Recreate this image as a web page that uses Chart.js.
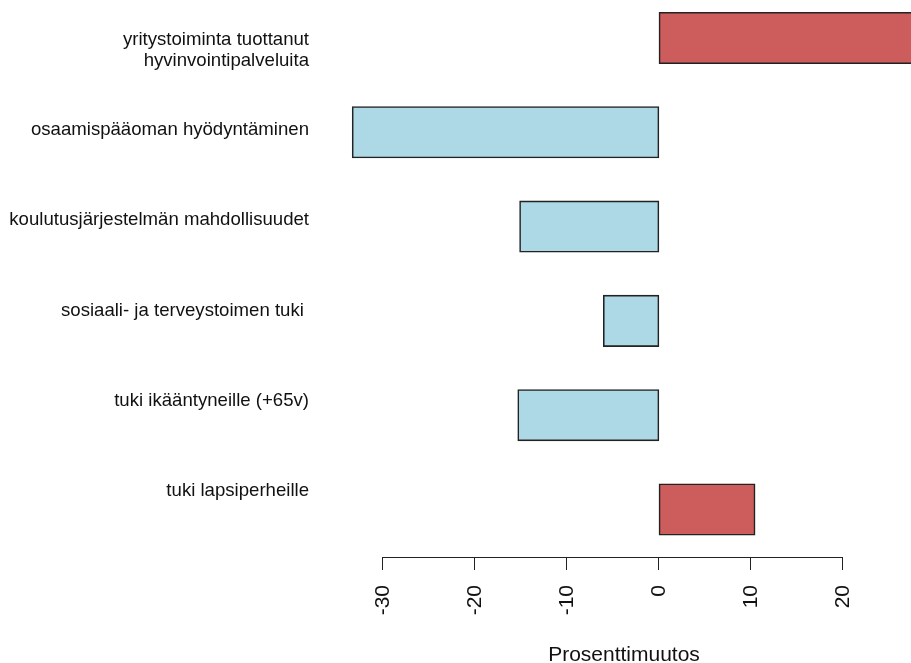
<!DOCTYPE html>
<html>
<head>
<meta charset="utf-8">
<script src="https://cdn.jsdelivr.net/npm/chart.js@4/dist/chart.umd.min.js"></script>
<style>
  html, body { margin: 0; padding: 0; background: #fff; }
  #wrap { width: 911px; height: 663px; }
</style>
</head>
<body>
<div id="wrap"><canvas id="c" width="911" height="663"></canvas></div>
<script>
// ---- data ----
const categories = [
  'yritystoiminta tuottanut\nhyvinvointipalveluita',
  'osaamispääoman hyödyntäminen',
  'koulutusjärjestelmän mahdollisuudet',
  'sosiaali- ja terveystoimen tuki ',
  'tuki ikääntyneille (+65v)',
  'tuki lapsiperheille'
];
const changes = [30, -33.3, -15.1, -6.0, -15.3, 10.4];
const xTicks = [-30, -20, -10, 0, 10, 20];
const axisTitle = 'Prosenttimuutos';

// ---- styling ----
const POS_COLOR = '#CD5C5C';
const NEG_COLOR = '#ADD8E6';
const TEXT_COLOR = '#111';
const FONT = "'Liberation Sans', Arial, Helvetica, sans-serif";
const LABEL_LINE_SHIFT = 0.12; // extra lines hang below the tick (R style)

Chart.defaults.font.family = FONT;
Chart.defaults.color = TEXT_COLOR;

const labelLines = categories.map(c => c.split('\n'));
const indices = categories.map((c, i) => i);

const axisLinePlugin = {
  id: 'axisLine',
  afterDraw(chart) {
    const xs = chart.scales.x;
    const ctx = chart.ctx;
    const y = Math.round(xs.top) + 0.5;
    ctx.save();
    ctx.strokeStyle = '#222';
    ctx.lineWidth = 1;
    ctx.beginPath();
    ctx.moveTo(xs.getPixelForValue(xTicks[0]), y);
    ctx.lineTo(xs.getPixelForValue(xTicks[xTicks.length - 1]), y);
    ctx.stroke();
    ctx.restore();
  }
};

const noPad = s => { s.paddingTop = 0; s.paddingBottom = 0; s.paddingLeft = 0; s.paddingRight = 0; };

new Chart(document.getElementById('c'), {
  type: 'bar',
  data: {
    datasets: [{
      data: changes.map((v, i) => ({ x: v, y: i })),
      backgroundColor: changes.map(v => v >= 0 ? POS_COLOR : NEG_COLOR),
      borderColor: '#222',
      borderWidth: 1.6,
      inflateAmount: 0.8,
      borderSkipped: false,
      barPercentage: 0.535,
      categoryPercentage: 1,
      xAxisID: 'x',
      yAxisID: 'y'
    }]
  },
  plugins: [axisLinePlugin],
  options: {
    indexAxis: 'y',
    responsive: false,
    devicePixelRatio: 1,
    animation: false,
    layout: { padding: 0, autoPadding: false },
    plugins: { legend: { display: false }, tooltip: { enabled: false } },
    scales: {
      x: {
        type: 'linear',
        position: 'bottom',
        min: -35,
        max: 27.4,
        offset: false,
        afterBuildTicks: s => { s.ticks = xTicks.map(v => ({ value: v })); },
        afterFit: s => { s.height = 106; noPad(s); },
        border: { display: false },
        grid: { display: true, offset: false, drawOnChartArea: false, drawTicks: true, tickLength: 13, color: '#222', lineWidth: 1 },
        ticks: {
          autoSkip: false,
          minRotation: 90,
          maxRotation: 90,
          padding: 15,
          color: TEXT_COLOR,
          font: { size: 21 },
          callback: v => String(v)
        },
        title: {
          display: true,
          text: axisTitle,
          color: TEXT_COLOR,
          font: { size: 21, lineHeight: 0.76 },
          padding: { top: 0, bottom: 0 }
        }
      },
      y: {
        type: 'linear',
        reverse: true,
        display: false,
        offset: false,
        grid: { offset: false },
        min: -0.403,
        max: 5.504,
        afterBuildTicks: s => { s.ticks = indices.map(v => ({ value: v })); },
        afterFit: noPad
      },
      yl: {
        type: 'linear',
        position: 'left',
        reverse: true,
        offset: false,
        min: -0.437,
        max: 5.729,
        afterBuildTicks: s => {
          s.ticks = indices.map(i => ({ value: i + (labelLines[i].length - 1) * LABEL_LINE_SHIFT }));
        },
        afterFit: s => { s.width = 337; noPad(s); },
        border: { display: false },
        grid: { display: false, offset: false, drawTicks: false },
        ticks: {
          autoSkip: false,
          padding: 28,
          color: TEXT_COLOR,
          font: { size: 18.6, lineHeight: 1.17 },
          callback: (v, idx) => labelLines[idx].length > 1 ? labelLines[idx] : labelLines[idx][0]
        }
      }
    }
  }
});
</script>
</body>
</html>
